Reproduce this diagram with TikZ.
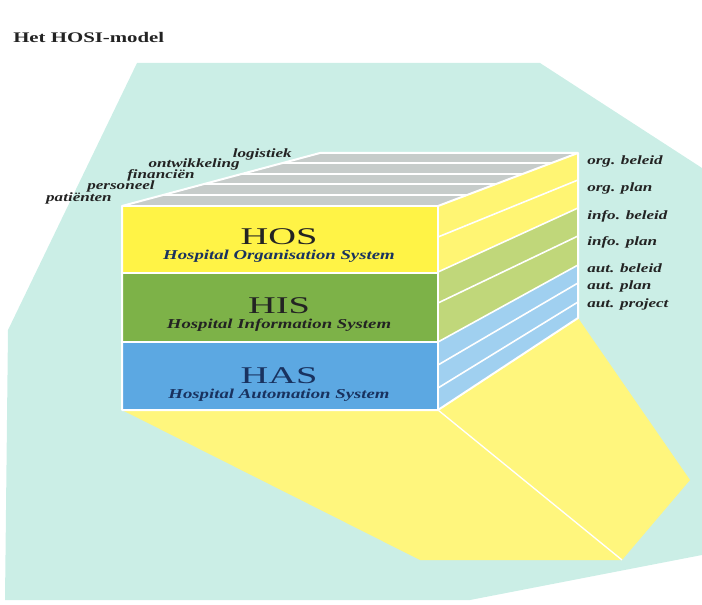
\documentclass[tikz,border=0pt]{standalone}
\usepackage{fontspec}
\setmainfont{Liberation Serif}
\usepackage{tikz}
\usetikzlibrary{calc}

\definecolor{bgcyan}{RGB}{203,238,230}
\definecolor{floorgelb}{RGB}{255,246,125}
\definecolor{hosgelb}{RGB}{255,243,70}
\definecolor{hisgroen}{RGB}{125,178,72}
\definecolor{hasblauw}{RGB}{92,168,226}
\definecolor{orgside}{RGB}{255,245,115}
\definecolor{infoside}{RGB}{192,215,122}
\definecolor{autside}{RGB}{160,208,240}
\definecolor{topgrijs}{RGB}{198,204,202}
\definecolor{inkt}{RGB}{35,35,35}
\definecolor{navy}{RGB}{25,50,95}

\newcommand{\wide}[2][1.35]{\scalebox{#1}[1]{#2}}

\tikzset{
  whiteline/.style={white, line width=1.5pt, line join=round},
  stripelabel/.style={anchor=base east, inner sep=0pt, text=inkt,
    font=\fontsize{9.5}{10}\selectfont\bfseries\itshape},
  sidelabel/.style={anchor=base west, inner sep=0pt, text=inkt,
    font=\fontsize{9.5}{10}\selectfont\bfseries\itshape},
  bigname/.style={anchor=base, inner sep=0pt, font=\fontsize{18}{19}\selectfont},
  fullname/.style={anchor=base, inner sep=0pt, text=navy,
    font=\fontsize{10.2}{11}\selectfont\bfseries\itshape}
}

\begin{document}
\begin{tikzpicture}[x=0.75pt,y=-0.75pt]
  \useasboundingbox (0,0) rectangle (702,605);

  % achtergrond
  \fill[bgcyan] (137,63) -- (540,63) -- (702,168) -- (702,555) -- (470,600)
    -- (5,600) -- (8,330) -- cycle;

  % hoekpunten van het blok
  \coordinate (ftl) at (122,206);
  \coordinate (ftr) at (438,206);
  \coordinate (fbl) at (122,410);
  \coordinate (fbr) at (438,410);
  \coordinate (btl) at (320,153);
  \coordinate (btr) at (578,153);
  \coordinate (bbr) at (578,318);
  \coordinate (vloerl) at (420,560);
  \coordinate (vloerr) at (622,560);
  \coordinate (vloerp) at (690,480);

  % vloer
  \fill[floorgelb] (fbl) -- (vloerl) -- (vloerr) -- (vloerp) -- (bbr) -- (fbr) -- cycle;
  \draw[white, line width=1pt] (fbr) -- (vloerr);

  % voorkant
  \fill[hosgelb] (122,206) rectangle (438,273);
  \fill[hisgroen] (122,273) rectangle (438,342);
  \fill[hasblauw] (122,342) rectangle (438,410);
  \draw[whiteline] (122,273) -- (438,273);
  \draw[whiteline] (122,342) -- (438,342);

  % bovenkant met stroken
  \begin{scope}
    \clip (ftl) -- (ftr) -- (btr) -- (btl) -- cycle;
    \fill[topgrijs] (ftl) -- (ftr) -- (btr) -- (btl) -- cycle;
    \foreach \yy in {163,174,184,195}
      \draw[white, line width=1.2pt] (100,\yy) -- (600,\yy);
  \end{scope}

  % zijkant
  \foreach \fa/\ba/\fb/\bb/\kleur in {206/153/237/180/orgside, 237/180/272/208/orgside,
      272/208/303/236/infoside, 303/236/342/265/infoside,
      342/265/365/283/autside, 365/283/388/302/autside, 388/302/410/318/autside}
    \fill[\kleur] (438,\fa) -- (578,\ba) -- (578,\bb) -- (438,\fb) -- cycle;
  \foreach \fa/\ba in {237/180, 272/208, 303/236, 342/265, 365/283, 388/302}
    \draw[white, line width=1.2pt] (438,\fa) -- (578,\ba);

  % randen
  \draw[whiteline] (fbl) -- (ftl) -- (btl) -- (btr) -- (bbr) -- (fbr) -- cycle;
  \draw[whiteline] (ftl) -- (ftr) -- (fbr);
  \draw[whiteline] (ftr) -- (btr);

  % titel
  \node[anchor=base west, inner sep=0pt, text=inkt,
    font=\fontsize{11}{12}\selectfont\bfseries] (titel) at (13,43) {\wide[1.42]{Het HOSI-model}};

  % namen op de voorkant
  \node[bigname, text=inkt] (hos) at (279,245) {\wide[1.6]{HOS}};
  \node[fullname] (hosnaam) at (279,260) {\wide[1.38]{Hospital Organisation System}};
  \node[bigname, text=inkt] (his) at (279,314) {\wide[1.6]{HIS}};
  \node[fullname, text=inkt] (hisnaam) at (279,329) {\wide[1.38]{Hospital Information System}};
  \node[bigname, text=navy] (has) at (279,383) {\wide[1.6]{HAS}};
  \node[fullname] (hasnaam) at (279,398) {\wide[1.38]{Hospital Automation System}};

  % stroken bovenkant
  \node[stripelabel] (logistiek) at (292,158) {\wide{logistiek}};
  \node[stripelabel] (ontwikkeling) at (240,168) {\wide{ontwikkeling}};
  \node[stripelabel] (financien) at (195,179) {\wide{financiën}};
  \node[stripelabel] (personeel) at (155,190) {\wide{personeel}};
  \node[stripelabel] (patienten) at (112,202) {\wide{patiënten}};

  % stroken zijkant
  \node[sidelabel] (orgbeleid) at (587,165) {\wide{org. beleid}};
  \node[sidelabel] (orgplan) at (587,192) {\wide{org. plan}};
  \node[sidelabel] (infobeleid) at (587,220) {\wide{info. beleid}};
  \node[sidelabel] (infoplan) at (587,246) {\wide{info. plan}};
  \node[sidelabel] (autbeleid) at (587,273) {\wide{aut. beleid}};
  \node[sidelabel] (autplan) at (587,290) {\wide{aut. plan}};
  \node[sidelabel] (autproject) at (587,308) {\wide{aut. project}};
\end{tikzpicture}
\end{document}
